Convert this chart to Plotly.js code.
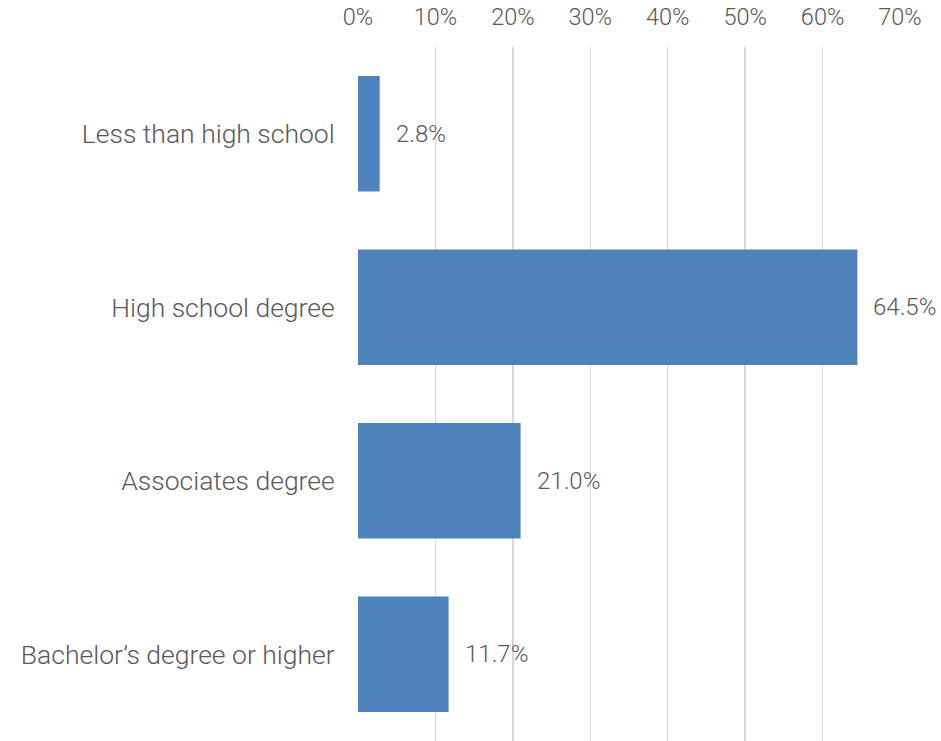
<!DOCTYPE html>
<html><head><meta charset="utf-8">
<script src="https://cdn.plot.ly/plotly-3.0.1.min.js"></script>
<style>body{margin:0;background:#fff}#c{width:941px;height:741px}</style>
</head><body><div id="c"></div>
<script>
const categories = ["Less than high school", "High school degree", "Associates degree", "Bachelor’s degree or higher"];
const shares = [0.028, 0.645, 0.210, 0.117];
const tickValues = [0, 0.1, 0.2, 0.3, 0.4, 0.5, 0.6, 0.7];

const fontFam = "Roboto, sans-serif";
const grey = "#595959";
const fw = 300;

const trace = {
  type: "bar", orientation: "h",
  y: categories, x: shares,
  marker: {color: "#4F81BD"},
  hoverinfo: "none"
};

const annotations = categories.map((c, i) => ({
  x: shares[i], y: c, xref: "x", yref: "y",
  text: (shares[i]*100).toFixed(1) + "%",
  showarrow: false, xanchor: "left", xshift: 14,
  font: {family: fontFam, size: 24, color: grey, weight: fw}
}));

const layout = {
  width: 941, height: 741,
  margin: {l: 358, r: 41, t: 47, b: 0},
  paper_bgcolor: "#fff", plot_bgcolor: "#fff",
  showlegend: false,
  bargap: 0.335,
  font: {family: fontFam, size: 23.5, color: grey, weight: fw},
  xaxis: {
    side: "top", range: [0, 0.7], tickvals: tickValues, tickformat: ".0%",
    showgrid: true, gridcolor: "#d9d9d9", gridwidth: 1.5,
    zeroline: false, showline: false,
    ticks: "outside", ticklen: 12, tickcolor: "rgba(0,0,0,0)",
    tickfont: {family: fontFam, size: 23.5, color: grey, weight: fw}
  },
  yaxis: {
    autorange: "reversed", showgrid: false, zeroline: false, showline: false,
    ticks: "outside", ticklen: 17, tickcolor: "rgba(0,0,0,0)",
    tickfont: {family: fontFam, size: 26.5, color: grey, weight: fw}
  },
  annotations: annotations
};

Plotly.newPlot("c", [trace], layout, {staticPlot: true, displayModeBar: false});
</script></body></html>
